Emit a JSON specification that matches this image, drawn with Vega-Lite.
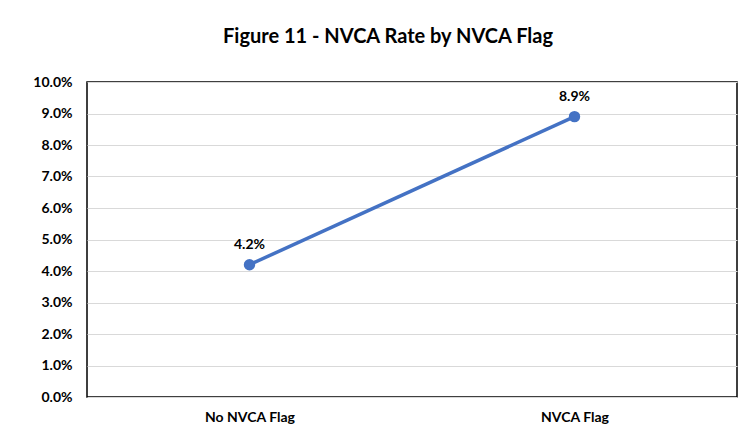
{
  "$schema": "https://vega.github.io/schema/vega-lite/v6.json",
  "autosize": {"type": "none"},
  "width": 650,
  "height": 315,
  "padding": {"left": 87, "top": 82, "right": 13, "bottom": 49},
  "background": "white",
  "title": {
    "text": "Figure 11 - NVCA Rate by NVCA Flag",
    "font": "Lato",
    "fontSize": 20,
    "fontWeight": "bold",
    "color": "#000000",
    "anchor": "middle",
    "dx": -24,
    "offset": 28
  },
  "data": {
    "values": [
      {"flag": "No NVCA Flag", "rate": 0.042},
      {"flag": "NVCA Flag", "rate": 0.089}
    ]
  },
  "encoding": {
    "x": {
      "field": "flag",
      "type": "ordinal",
      "sort": null,
      "scale": {"type": "point", "padding": 0.5},
      "axis": {
        "title": null,
        "labelAngle": 0,
        "ticks": false,
        "domain": false,
        "labelPadding": 13,
        "labelFont": "Lato",
        "labelFontSize": 14,
        "labelFontWeight": "bold",
        "labelColor": "#000000"
      }
    },
    "y": {
      "field": "rate",
      "type": "quantitative",
      "scale": {"domain": [0, 0.1], "nice": false},
      "axis": {
        "title": null,
        "format": ".1%",
        "values": [0, 0.01, 0.02, 0.03, 0.04, 0.05, 0.06, 0.07, 0.08, 0.09, 0.1],
        "labelOverlap": false,
        "ticks": false,
        "domain": false,
        "labelPadding": 15,
        "labelFont": "Lato",
        "labelFontSize": 14,
        "labelFontWeight": "bold",
        "labelColor": "#000000",
        "gridColor": "#d9d9d9",
        "gridWidth": 1
      }
    }
  },
  "layer": [
    {"mark": {"type": "line", "color": "#4472C4", "strokeWidth": 3.5}},
    {"mark": {"type": "point", "filled": true, "color": "#4472C4", "size": 130, "opacity": 1}},
    {
      "mark": {"type": "text", "dy": -20, "font": "Lato", "fontSize": 14, "fontWeight": "bold", "color": "#000000"},
      "encoding": {"text": {"field": "rate", "type": "quantitative", "format": ".1%"}}
    }
  ],
  "config": {
    "view": {"stroke": "#000000", "strokeWidth": 1.5}
  }
}
